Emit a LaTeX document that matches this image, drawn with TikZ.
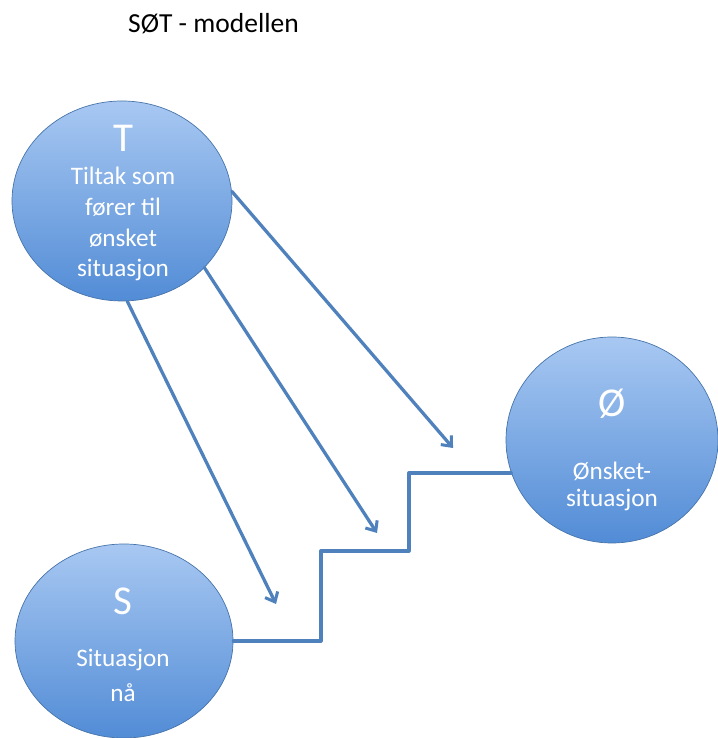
\documentclass[tikz,border=0pt]{standalone}
\usepackage{fontspec}
\setmainfont{Carlito}
\usepackage{tikz}
\usetikzlibrary{arrows.meta}
\usetikzlibrary{shapes.geometric}
\definecolor{steelline}{RGB}{79,129,189}
\definecolor{blobtop}{RGB}{168,200,242}
\definecolor{blobbot}{RGB}{82,140,214}

\begin{document}
\begin{tikzpicture}[x=0.03cm,y=0.03cm,line cap=round,line join=round,
    blob/.style={ellipse,draw=steelline!90!black,line width=0.6pt,top color=blobtop,bottom color=blobbot,inner sep=0pt},
    link/.style={draw=steelline,line width=2.8pt},
    tip/.style={-{Straight Barb[length=7pt,width=12pt,line width=2.6pt]}},
    big/.style={text=white,font=\fontsize{35}{40}\selectfont},
    small/.style={text=white,align=center,font=\fontsize{21.5}{26.4}\selectfont}]
        \useasboundingbox (0,0) rectangle (717,738);
        \node[anchor=base,font=\fontsize{23.5}{28}\selectfont] (title) at (213.5,705) {SØT - modellen};
        % the three states
        \node[blob,minimum width=6.6cm,minimum height=6cm] (T) at (122,537) {};
        \node[blob,minimum width=6.54cm,minimum height=5.82cm] (S) at (124,97) {};
        \node[blob,minimum width=6.36cm,minimum height=6.18cm] (O) at (612,298) {};
        \node[big,anchor=base] (Tlet) at (123,586) {T};
        \node[small,anchor=base] (Ttxt) at (123,461) {Tiltak som\\fører til\\ønsket\\situasjon};
        \node[big,anchor=base] (Slet) at (123,123) {S};
        \node[small,anchor=base] (Stxt) at (123,71) {Situasjon};
        \node[small,anchor=base] (Snaa) at (123,36) {nå};
        \node[big,anchor=base] (Olet) at (612,321) {Ø};
        \node[small,anchor=base] (Otxt) at (612,258) {Ønsket-};
        \node[small,anchor=base] (Osit) at (612,231) {situasjon};
        % stairs
        \coordinate (st1) at (321,187);
        \coordinate (st2) at (409,265);
        \draw[link] (S.east) -| (st1) -| (st2) -- (st2 -| O.198);
        % arrows
        \coordinate (a1) at (276,134);
        \coordinate (a2) at (377,205);
        \coordinate (a3) at (453,290);
        \draw[link,tip] (T.273) -- (a1);
        \draw[link,tip] (T.321) -- (a2);
        \draw[link,tip] (T.5) -- (a3);
\end{tikzpicture}
\end{document}
